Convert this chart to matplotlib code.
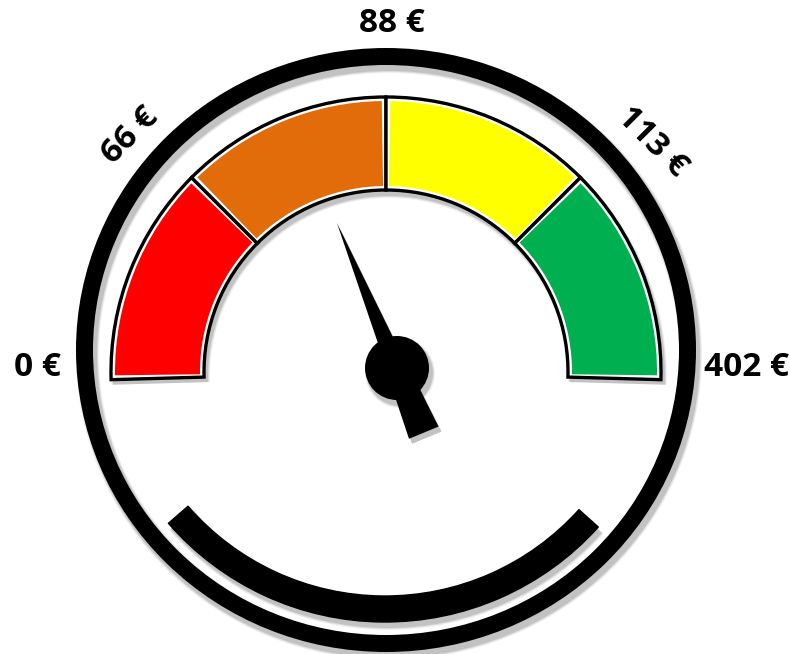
import numpy as np
import matplotlib
matplotlib.use('Agg')
import matplotlib.pyplot as plt
from matplotlib.patches import Wedge, Circle, Polygon, Ellipse

# gauge data
thresholds = [0, 66, 88, 113, 402]
tick_labels = ['0 €', '66 €', '88 €', '113 €', '402 €']
band_colors = ['#FF0000', '#E36C0A', '#FFFF00', '#00B050']
value = 77

W, H = 790, 654
fig = plt.figure(figsize=(W / 100, H / 100), dpi=100)
ax = fig.add_axes([0, 0, 1, 1])
ax.set_xlim(0, W)
ax.set_ylim(0, H)
ax.set_aspect('equal')
ax.axis('off')

LW = 72 / 100  # points per pixel


def val2ang(v):
    # thresholds sit at equal steps from 180 deg down to 0 deg
    return 180 - 45 * np.interp(v, thresholds, np.arange(len(thresholds)))


def shadow(make, dx=3, dy=-5):
    # soft grey drop shadow, a few stacked layers
    for k, a in zip([3, 2, 1], [0.06, 0.08, 0.12]):
        p = make(dx, dy, k)
        p.set_facecolor('black')
        p.set_edgecolor('none')
        p.set_alpha(a)
        ax.add_patch(p)


# outer ring (slightly wider than tall)
rc = (386, 304)
rw, rh, ring_w = 2 * (310 - 8.5), 2 * (302 - 8.5), 17
for k, a in zip([3, 2, 1], [0.06, 0.08, 0.12]):
    ax.add_patch(Ellipse((rc[0] + 3, rc[1] - 5), rw, rh, fill=False, edgecolor='black',
                         lw=(ring_w + 2 * k) * LW, alpha=a))
ax.add_patch(Ellipse(rc, rw, rh, fill=False, edgecolor='black', lw=ring_w * LW))

# bottom arc
bc = (385, 319)
shadow(lambda dx, dy, k: Wedge((bc[0] + dx, bc[1] + dy), 287 + k, 221, 318, width=26 + 2 * k))
ax.add_patch(Wedge(bc, 287, 221, 318, width=26, facecolor='black', edgecolor='black',
                   lw=1, joinstyle='round'))

# colour bands
sc = (386, 282)
r_out, r_in = 275, 182
for i, col in enumerate(band_colors):
    a1 = val2ang(thresholds[i + 1])
    a2 = val2ang(thresholds[i])
    if i == 0:
        a2 += 1.6
    if i == len(band_colors) - 1:
        a1 -= 1.6
    shadow(lambda dx, dy, k: Wedge((sc[0] + dx, sc[1] + dy), r_out + k, a1, a2,
                                   width=r_out - r_in + 2 * k))
    ax.add_patch(Wedge(sc, r_out, a1, a2, width=r_out - r_in, facecolor='white',
                       edgecolor='black', lw=2.4))
    ax.add_patch(Wedge(sc, r_out - 4, a1 + 0.9, a2 - 0.9, width=r_out - r_in - 8,
                       facecolor=col, edgecolor='none'))

# needle
pv = np.array([397, 286])
t = np.radians(val2ang(value))
u = np.array([np.cos(t), np.sin(t)])
n = np.array([-u[1], u[0]])
pointer = [pv + 157 * u, pv + 10 * n, pv - 10 * n]
tail = [pv + 11 * n, pv - 70 * u + 16 * n, pv - 70 * u - 16 * n, pv - 11 * n]
for pts in (pointer, tail):
    pts = np.array(pts)
    shadow(lambda dx, dy, k: Polygon(pts + np.array([dx, dy]), closed=True))
shadow(lambda dx, dy, k: Circle((pv[0] + dx, pv[1] + dy), 32 + k))
ax.add_patch(Polygon(np.array(pointer), closed=True, facecolor='black', edgecolor='none'))
ax.add_patch(Polygon(np.array(tail), closed=True, facecolor='black', edgecolor='none'))
ax.add_patch(Circle(pv, 32, facecolor='black', edgecolor='none'))

# labels
lc = (392, 286)
nudge = [0, 3.5, 0, -4, 0]
rads = [355, 350, 344, 344, 355]
for v, lab, dn, r in zip(thresholds, tick_labels, nudge, rads):
    a = val2ang(v)
    x = lc[0] + r * np.cos(np.radians(a + dn))
    y = lc[1] + r * np.sin(np.radians(a + dn))
    rot = 0 if a in (0, 90, 180) else a - 90
    ax.text(x, y, lab, ha='center', va='center', rotation=rot, rotation_mode='anchor',
            fontsize=24, fontweight='bold', family=['Open Sans', 'DejaVu Sans'])

fig.savefig('out.png', dpi=100, facecolor='white')
